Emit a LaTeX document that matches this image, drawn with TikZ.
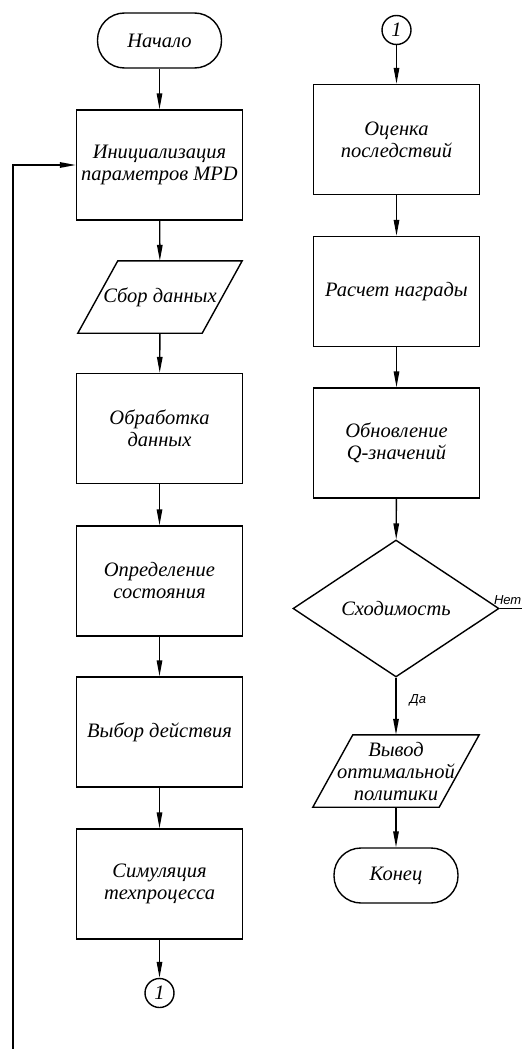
\documentclass[tikz,border=0pt]{standalone}
\usepackage{fontspec}
\setmainfont{Liberation Serif}
\newfontfamily\lblfont{Liberation Sans}
\usetikzlibrary{arrows.meta,shapes.geometric}
\begin{document}
\begin{tikzpicture}[x=1pt,y=-1pt,
  every node/.style={font=\fontsize{20.5}{22}\selectfont\itshape, align=center, inner sep=0pt},
  box/.style={draw, line width=1.4pt, minimum width=166pt, minimum height=110pt},
  term/.style={draw, line width=1.4pt, rounded corners=27pt, minimum width=124pt, minimum height=55pt},
  conn/.style={draw, circle, line width=1.4pt, minimum size=29pt},
  dec/.style={draw, diamond, aspect=1.5, line width=1.4pt, minimum width=206pt, minimum height=137pt},
  iobox/.style={minimum width=164pt, minimum height=72pt},
  arr/.style={line width=1.4pt, -{Triangle[length=16pt,width=5.5pt]}},
  ln/.style={line width=1.4pt},
  lbl/.style={font=\lblfont\itshape\fontsize{13}{15}\selectfont}]
\fill[white] (0,0) rectangle (522,1049);
\useasboundingbox (0,0) rectangle (522,1049);

% left column
\node[term] (start) at (159.5,40.5) {Начало};
\node[box] (init) at (159.5,165) {Инициализация\\параметров MPD};
\node[iobox] (sbor) at (160,297) {Сбор данных};
\draw[ln] ([xshift=40pt]sbor.north west) -- (sbor.north east) -- ([xshift=-40pt]sbor.south east) -- (sbor.south west) -- cycle;
\node[box] (obr) at (159.5,428.5) {Обработка\\данных};
\node[box] (opr) at (159.5,581) {Определение\\состояния};
\node[box] (vyb) at (159.5,732) {Выбор действия};
\node[box] (sim) at (159.5,884) {Симуляция\\техпроцесса};
\node[conn] (c1) at (159.5,993) {1};
\coordinate (fb) at (13,1049);

% right column
\node[conn] (c2) at (396.5,30) {1};
\node[box] (oc) at (396.5,139.5) {Оценка\\последствий};
\node[box] (ras) at (396.5,291.5) {Расчет награды};
\node[box] (obn) at (396.5,443) {Обновление\\Q-значений};
\node[dec] (sh) at (396,608.5) {Сходимость};
\coordinate (netend) at (522,608.5);
\node[iobox, minimum width=166pt] (vyv) at (396,771) {Вывод\\оптимальной\\политики};
\draw[ln] ([xshift=40pt]vyv.north west) -- (vyv.north east) -- ([xshift=-40pt]vyv.south east) -- (vyv.south west) -- cycle;
\node[term] (kon) at (396,875.5) {Конец};

% connectors
\draw[arr] (start) -- (init);
\draw[arr] (init) -- (sbor);
\draw[arr] (sbor) -- (obr);
\draw[arr] (obr) -- (opr);
\draw[arr] (opr) -- (vyb);
\draw[arr] (vyb) -- (sim);
\draw[arr] (sim) -- (c1);
\draw[arr] (fb) |- (init.west);

\draw[arr] (c2) -- (oc);
\draw[arr] (oc) -- (ras);
\draw[arr] (ras) -- (obn);
\draw[arr] (obn) -- (sh);
\draw[arr] (sh) -- node[lbl, right, pos=0.4, xshift=13pt] (da) {Да} (vyv);
\draw[arr] (vyv) -- (kon);
\draw[ln] (sh.east) -- (netend);
\node[lbl, anchor=south east] (net) at ([xshift=-0.5pt,yshift=3.5pt]netend) {Нет};
\end{tikzpicture}
\end{document}
